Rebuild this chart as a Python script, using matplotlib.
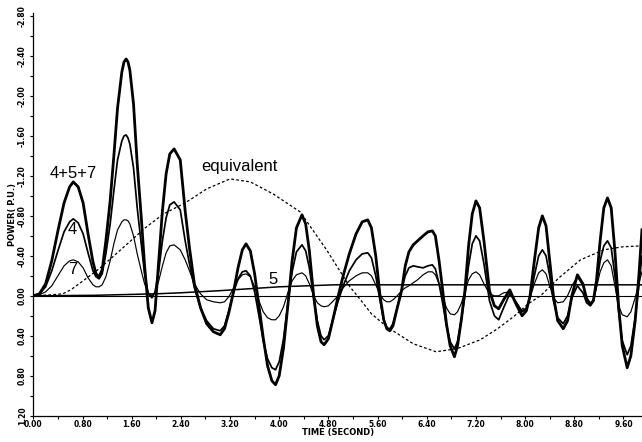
import numpy as np
import matplotlib
matplotlib.use("Agg")
import matplotlib.pyplot as plt
from matplotlib.ticker import MultipleLocator, FormatStrFormatter

# time base shared by the three oscillating curves (seconds)
t_osc = [0.0, 0.1, 0.2, 0.3, 0.4, 0.5, 0.59, 0.65, 0.73, 0.81,
         0.89, 0.97, 1.02, 1.07, 1.12, 1.18, 1.25, 1.31, 1.37, 1.44, 1.475,
         1.51, 1.54, 1.57, 1.63, 1.69, 1.76, 1.81, 1.87, 1.93, 1.98, 2.04,
         2.10, 2.16, 2.22, 2.29, 2.39, 2.47, 2.54, 2.62, 2.72, 2.82,
         2.93, 3.04, 3.11, 3.18, 3.26, 3.33, 3.40, 3.46, 3.53, 3.60,
         3.67, 3.74, 3.81, 3.88, 3.94, 4.00, 4.07, 4.14, 4.21, 4.28,
         4.37, 4.43, 4.49, 4.56, 4.62, 4.68, 4.73, 4.80, 4.88, 4.96,
         5.04, 5.14, 5.25, 5.35, 5.44, 5.50, 5.57, 5.64, 5.70, 5.75,
         5.80, 5.85, 5.92, 5.99, 6.05, 6.11, 6.18, 6.25, 6.34, 6.42,
         6.49, 6.54, 6.60, 6.66, 6.72, 6.78, 6.85, 6.90, 6.96, 7.02,
         7.08, 7.14, 7.20, 7.26, 7.33, 7.42, 7.50, 7.57, 7.65, 7.75,
         7.85, 7.95, 8.02, 8.08, 8.15, 8.22, 8.28, 8.34, 8.40, 8.46,
         8.53, 8.62, 8.69, 8.76, 8.85, 8.94, 9.00, 9.06, 9.11, 9.16,
         9.22, 9.28, 9.34, 9.40, 9.46, 9.52, 9.58, 9.66, 9.72, 9.79,
         9.85, 9.90]

# 4+5+7 (thick)
p_sum = [0.0, -0.02, -0.12, -0.35, -0.65, -0.93, -1.09, -1.14, -1.09, -0.93,
         -0.62, -0.34, -0.22, -0.19, -0.26, -0.55, -0.95, -1.40, -1.88, -2.24, -2.34,
         -2.37, -2.34, -2.26, -1.92, -1.32, -0.75, -0.30, 0.12, 0.27, 0.15, -0.35,
         -0.85, -1.22, -1.42, -1.47, -1.36, -0.85, -0.48, -0.12, 0.12, 0.28,
         0.36, 0.39, 0.33, 0.17, -0.05, -0.28, -0.46, -0.52, -0.45, -0.22,
         0.10, 0.42, 0.70, 0.85, 0.89, 0.80, 0.52, 0.10, -0.35, -0.68,
         -0.81, -0.72, -0.45, 0.00, 0.30, 0.46, 0.49, 0.43, 0.22, 0.00,
         -0.20, -0.42, -0.62, -0.74, -0.76, -0.68, -0.40, 0.00, 0.24, 0.33,
         0.35, 0.30, 0.12, -0.05, -0.30, -0.44, -0.51, -0.55, -0.60, -0.64,
         -0.65, -0.60, -0.35, -0.05, 0.28, 0.50, 0.61, 0.50, 0.25, -0.05,
         -0.50, -0.82, -0.95, -0.88, -0.55, -0.05, 0.10, 0.13, 0.04, -0.06,
         0.08, 0.20, 0.15, 0.00, -0.35, -0.68, -0.80, -0.70, -0.35, 0.00,
         0.25, 0.33, 0.25, 0.00, -0.21, -0.12, 0.03, 0.09, 0.05, -0.15,
         -0.55, -0.88, -0.98, -0.88, -0.45, 0.10, 0.50, 0.72, 0.60, 0.25,
         -0.20, -0.66]

# unit 4 (medium)
p_4 = [0.0, -0.02, -0.09, -0.25, -0.45, -0.64, -0.74, -0.77, -0.73, -0.62,
       -0.43, -0.25, -0.19, -0.17, -0.22, -0.42, -0.72, -1.05, -1.36, -1.55, -1.60,
       -1.61, -1.58, -1.52, -1.28, -0.88, -0.50, -0.22, -0.02, 0.02, -0.04, -0.25,
       -0.55, -0.78, -0.91, -0.94, -0.86, -0.55, -0.32, -0.08, 0.12, 0.25,
       0.33, 0.35, 0.30, 0.15, -0.04, -0.17, -0.24, -0.25, -0.20, -0.04,
       0.20, 0.45, 0.63, 0.72, 0.74, 0.66, 0.43, 0.08, -0.24, -0.44,
       -0.51, -0.45, -0.28, 0.02, 0.25, 0.40, 0.44, 0.40, 0.22, 0.05,
       -0.10, -0.25, -0.36, -0.42, -0.43, -0.38, -0.20, 0.05, 0.24, 0.32,
       0.33, 0.28, 0.12, -0.06, -0.20, -0.28, -0.30, -0.29, -0.28, -0.30,
       -0.31, -0.27, -0.12, 0.08, 0.30, 0.46, 0.53, 0.46, 0.25, 0.00,
       -0.30, -0.52, -0.60, -0.55, -0.32, 0.05, 0.20, 0.24, 0.12, -0.02,
       0.06, 0.16, 0.13, 0.02, -0.20, -0.40, -0.46, -0.40, -0.20, 0.05,
       0.22, 0.28, 0.20, 0.02, -0.10, -0.03, 0.07, 0.10, 0.05, -0.10,
       -0.35, -0.50, -0.55, -0.48, -0.20, 0.15, 0.45, 0.59, 0.50, 0.22,
       -0.10, -0.40]

# unit 7 (thin)
p_7 = [0.0, -0.01, -0.04, -0.10, -0.20, -0.30, -0.35, -0.36, -0.34, -0.28,
       -0.18, -0.11, -0.09, -0.09, -0.11, -0.19, -0.35, -0.52, -0.66, -0.74, -0.76,
       -0.76, -0.75, -0.72, -0.60, -0.42, -0.24, -0.12, -0.03, 0.00, -0.03, -0.15,
       -0.30, -0.43, -0.50, -0.51, -0.46, -0.36, -0.25, -0.12, -0.02, 0.04,
       0.06, 0.07, 0.06, 0.01, -0.08, -0.16, -0.21, -0.22, -0.19, -0.09,
       0.05, 0.16, 0.22, 0.24, 0.24, 0.20, 0.11, -0.03, -0.15, -0.21,
       -0.23, -0.20, -0.12, 0.00, 0.07, 0.10, 0.11, 0.10, 0.05, 0.00,
       -0.08, -0.15, -0.20, -0.23, -0.23, -0.20, -0.11, -0.01, 0.04, 0.06,
       0.06, 0.04, 0.00, -0.05, -0.08, -0.10, -0.13, -0.16, -0.21, -0.24,
       -0.24, -0.21, -0.12, 0.01, 0.12, 0.18, 0.19, 0.16, 0.08, -0.04,
       -0.16, -0.22, -0.24, -0.21, -0.12, -0.02, 0.00, 0.00, -0.03, -0.04,
       0.06, 0.15, 0.12, 0.02, -0.12, -0.23, -0.26, -0.22, -0.10, 0.02,
       0.07, 0.06, 0.00, -0.10, -0.19, -0.10, 0.02, 0.07, 0.04, -0.08,
       -0.24, -0.33, -0.36, -0.30, -0.10, 0.10, 0.19, 0.21, 0.16, 0.02,
       -0.12, -0.24]

# unit 5
t_5 = [0.0, 1.0, 2.0, 2.39, 3.0, 3.5, 4.0, 4.9, 6.0, 7.0, 8.0, 9.0, 9.9]
p_5 = [0.0, -0.005, -0.02, -0.03, -0.05, -0.07, -0.09, -0.11, -0.11, -0.11, -0.11, -0.11, -0.11]

# equivalent (dashed)
t_eq = [0.0, 0.3, 0.48, 0.61, 0.81, 1.07, 1.31, 1.53, 1.82, 2.12,
        2.47, 2.82, 3.2, 3.53, 3.9, 4.34, 4.77, 5.15, 5.27, 5.5,
        5.75, 6.18, 6.55, 6.89, 7.27, 7.55, 7.81, 8.05, 8.25, 8.55,
        8.9, 9.28, 9.58, 9.9]
p_eq = [0.0, -0.01, -0.02, -0.06, -0.15, -0.27, -0.4, -0.52, -0.68, -0.82,
        -0.93, -1.07, -1.17, -1.14, -1.02, -0.84, -0.46, -0.09, 0.0, 0.18,
        0.31, 0.48, 0.56, 0.53, 0.44, 0.33, 0.21, 0.08, 0.0, -0.18,
        -0.36, -0.46, -0.49, -0.5]

fig = plt.figure(figsize=(6.42, 4.42), dpi=100)
ax = fig.add_axes([0.0519, 0.0595, 0.948, 0.911])

ax.axhline(0.0, color="black", lw=0.8)
ax.plot(t_5, p_5, color="black", lw=1.1)
ax.plot(t_eq, p_eq, color="black", lw=0.9, linestyle=(0, (2.2, 1.8)))
ax.plot(t_osc, p_7, color="black", lw=0.85, solid_joinstyle="round")
ax.plot(t_osc, p_4, color="black", lw=1.25, solid_joinstyle="round")
ax.plot(t_osc, p_sum, color="black", lw=2.0, solid_joinstyle="round")

lab = dict(family="Liberation Sans", fontsize=12, ha="center", va="center")
ax.text(0.65, -1.22, "4+5+7", **lab)
ax.text(0.635, -0.66, "4", **lab)
ax.text(0.635, -0.26, "7", **lab)
ax.text(3.36, -1.29, "equivalent", **lab)
ax.text(3.9, -0.16, "5", **lab)

ax.set_xlim(0, 9.9)
ax.set_ylim(1.2, -2.83)
ax.xaxis.set_major_locator(MultipleLocator(0.8))
ax.xaxis.set_minor_locator(MultipleLocator(0.4))
ax.yaxis.set_major_locator(MultipleLocator(0.4))
ax.yaxis.set_minor_locator(MultipleLocator(0.2))
ax.xaxis.set_major_formatter(FormatStrFormatter("%.2f"))
ax.yaxis.set_major_formatter(FormatStrFormatter("%.2f"))
ax.tick_params(which="both", direction="out", length=2.5, width=0.8, labelsize=5.5)
ax.tick_params(axis="x", pad=0.5)
ax.tick_params(axis="y", pad=2)
for lbl in ax.get_yticklabels():
    lbl.set_rotation(90)
    lbl.set_va("center")
    lbl.set_fontweight("bold")
for lbl in ax.get_xticklabels():
    lbl.set_fontweight("bold")

ax.set_xlabel("TIME (SECOND)", fontsize=6, fontweight="bold", labelpad=-0.5)
ax.set_ylabel("POWER( P.U.)", fontsize=6, fontweight="bold", labelpad=1)

for side in ["top", "right"]:
    ax.spines[side].set_visible(False)
for side in ["left", "bottom"]:
    ax.spines[side].set_linewidth(0.9)

fig.savefig("out.png", dpi=100)
